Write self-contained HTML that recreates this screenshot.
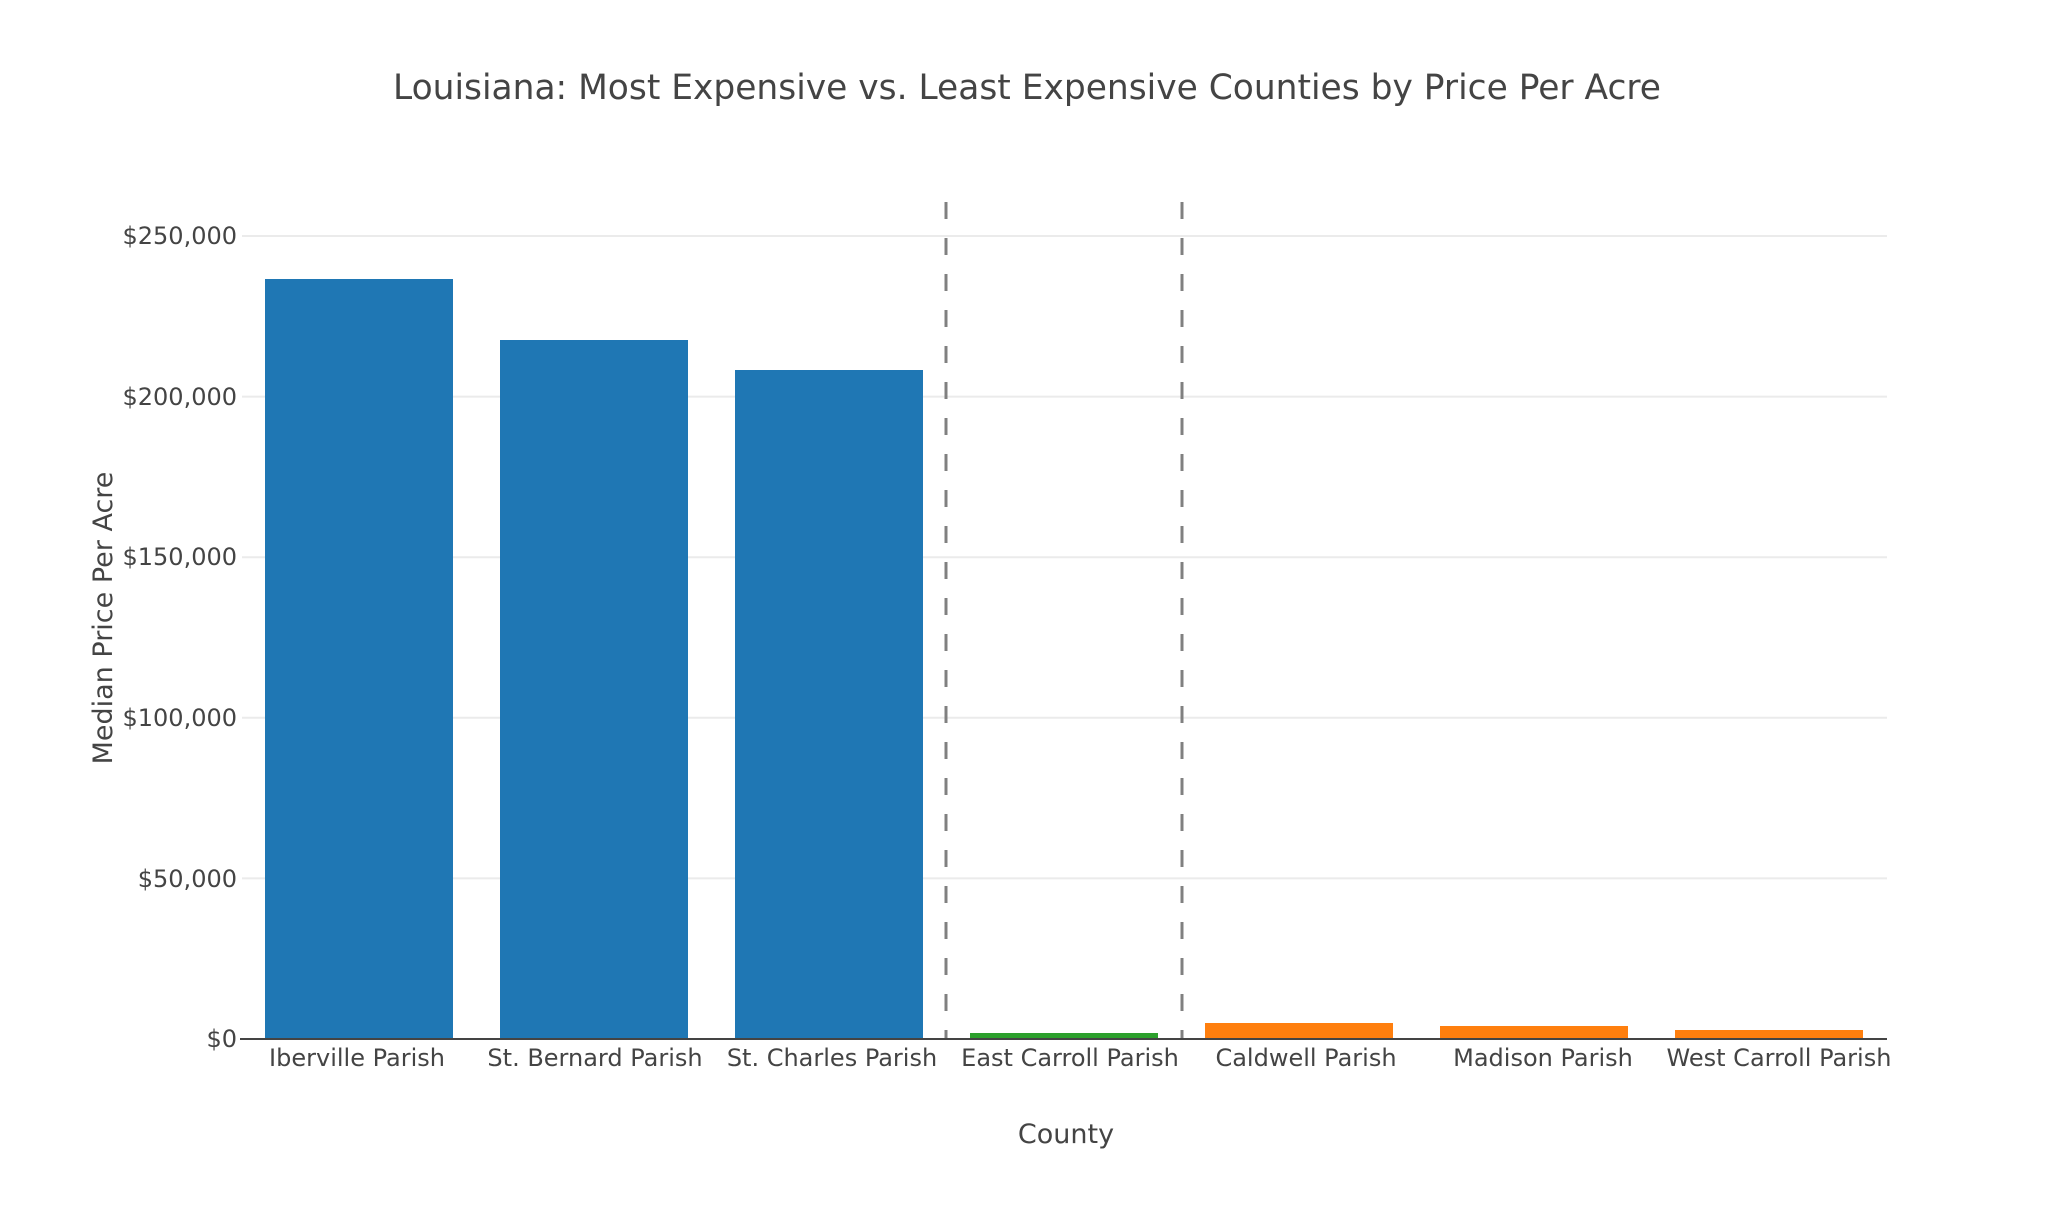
<!DOCTYPE html>
<html><head><meta charset="utf-8"><style>html,body{margin:0;padding:0;background:#fff}</style></head>
<body>
<svg width="2048" height="1200" xmlns="http://www.w3.org/2000/svg" font-family="DejaVu Sans, Liberation Sans, sans-serif" fill="#444">
<rect width="2048" height="1200" fill="#fff"/>
<g stroke="#ebebeb" stroke-width="2">
<line x1="242" x2="1887" y1="236" y2="236"/>
<line x1="242" x2="1887" y1="396.6" y2="396.6"/>
<line x1="242" x2="1887" y1="557.2" y2="557.2"/>
<line x1="242" x2="1887" y1="717.8" y2="717.8"/>
<line x1="242" x2="1887" y1="878.4" y2="878.4"/>
</g>
<g fill="#1f77b4">
<rect x="265" y="279" width="188" height="760"/>
<rect x="500" y="340" width="188" height="699"/>
<rect x="735" y="370" width="188" height="669"/>
</g>
<rect x="970" y="1033" width="188" height="6" fill="#2ca02c"/>
<g fill="#ff7f0e">
<rect x="1205" y="1023" width="188" height="16"/>
<rect x="1440" y="1026" width="188" height="13"/>
<rect x="1675" y="1030" width="188" height="9"/>
</g>
<g stroke="#808080" stroke-width="3" stroke-dasharray="17 19">
<line x1="946" x2="946" y1="202" y2="1039"/>
<line x1="1182" x2="1182" y1="202" y2="1039"/>
</g>
<line x1="240" x2="1887" y1="1039" y2="1039" stroke="#444" stroke-width="2"/>
<g font-size="24" text-anchor="end">
<text x="237" y="244">$250,000</text>
<text x="237" y="405">$200,000</text>
<text x="237" y="565">$150,000</text>
<text x="237" y="726">$100,000</text>
<text x="237" y="887">$50,000</text>
<text x="237" y="1047">$0</text>
</g>
<g font-size="24" text-anchor="middle">
<text x="357" y="1066">Iberville Parish</text>
<text x="595" y="1066">St. Bernard Parish</text>
<text x="832" y="1066">St. Charles Parish</text>
<text x="1070" y="1066">East Carroll Parish</text>
<text x="1306" y="1066">Caldwell Parish</text>
<text x="1543" y="1066">Madison Parish</text>
<text x="1779" y="1066">West Carroll Parish</text>
</g>
<text x="1066" y="1143" font-size="27" text-anchor="middle">County</text>
<text transform="translate(112,618) rotate(-90)" font-size="27" text-anchor="middle">Median Price Per Acre</text>
<text x="1027" y="99" font-size="35" text-anchor="middle" textLength="1268" lengthAdjust="spacingAndGlyphs">Louisiana: Most Expensive vs. Least Expensive Counties by Price Per Acre</text>
</svg>
</body></html>
